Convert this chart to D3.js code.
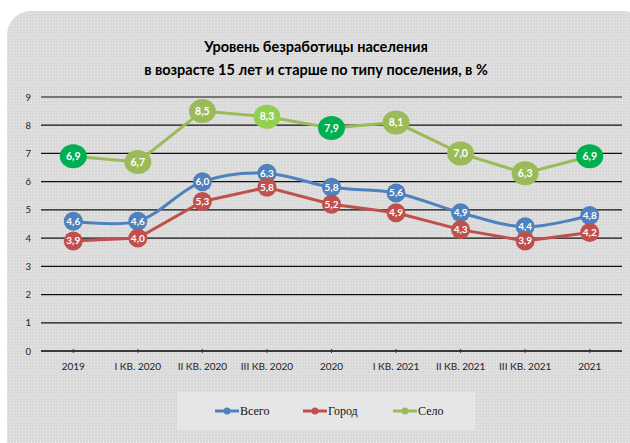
<!DOCTYPE html>
<html>
<head>
<meta charset="utf-8">
<script src="https://cdn.jsdelivr.net/npm/d3@7"></script>
<style>
  body { margin: 0; background: #fff; }
  svg { display: block; }
  .legend-text { font-family: "Times New Roman", "Liberation Serif", serif; }
</style>
</head>
<body>
<div id="chart"></div>
<script>
// data
var categories = ['2019', 'I КВ. 2020', 'II КВ. 2020', 'III КВ. 2020', '2020', 'I КВ. 2021', 'II КВ. 2021', 'III КВ. 2021', '2021'];
var vsego = [4.6, 4.6, 6.0, 6.3, 5.8, 5.6, 4.9, 4.4, 4.8];
var gorod = [3.9, 4.0, 5.3, 5.8, 5.2, 4.9, 4.3, 3.9, 4.2];
var selo  = [6.9, 6.7, 8.5, 8.3, 7.9, 8.1, 7.0, 6.3, 6.9];
var seloMarkerColors = ['#00b050', '#9bbb59', '#9bbb59', '#92d050', '#00b050', '#9bbb59', '#9bbb59', '#9bbb59', '#00b050'];
var yTicks = [0, 1, 2, 3, 4, 5, 6, 7, 8, 9];
var seriesNames = ['Всего', 'Город', 'Село'];

var W = 630, H = 443;
var svg = d3.select('#chart').append('svg')
            .attr('width', W)
            .attr('height', H);

// dotted grey background
var defs = svg.append('defs');
var pat = defs.append('pattern')
              .attr('id', 'dots')
              .attr('width', 3)
              .attr('height', 3)
              .attr('patternUnits', 'userSpaceOnUse');
pat.append('rect').attr('width', 3).attr('height', 3).attr('fill', '#dadada');
pat.append('rect').attr('x', 1).attr('y', 1).attr('width', 1).attr('height', 1).attr('fill', '#ececec');

svg.append('rect')
   .attr('x', 7)
   .attr('y', 11)
   .attr('width', 640)
   .attr('height', 460)
   .attr('rx', 24)
   .attr('fill', 'url(#dots)');

// title
var title = svg.append('text')
               .attr('text-anchor', 'middle')
               .attr('font-family', 'Lato, sans-serif')
               .attr('font-weight', 'bold')
               .attr('font-size', 14.5)
               .attr('fill', '#000');
title.append('tspan').attr('x', 316).attr('y', 52).text('Уровень безработицы населения');
title.append('tspan').attr('x', 316).attr('y', 75).text('в возрасте 15 лет и старше по типу поселения, в %');

// scales
var x = d3.scaleBand().domain(categories).range([41, 622]);
var y = d3.scaleLinear().domain([0, 9]).range([351, 97]);
var cx = function(i) { return x(categories[i]) + x.bandwidth() / 2; };

// horizontal grid
svg.append('g')
   .selectAll('line')
   .data(yTicks.filter(function(d) { return d > 0; }))
   .join('line')
   .attr('x1', 41)
   .attr('x2', 622)
   .attr('y1', function(d) { return y(d); })
   .attr('y2', function(d) { return y(d); })
   .attr('stroke', '#111')
   .attr('stroke-width', 1.2);

// y axis labels
var yAxis = svg.append('g')
               .attr('transform', 'translate(41,0)')
               .call(d3.axisLeft(y).tickValues(yTicks).tickSize(0).tickPadding(10));
yAxis.select('.domain').remove();
yAxis.selectAll('text')
     .attr('font-family', 'Lato, sans-serif')
     .attr('font-size', 9.5)
     .attr('fill', '#222');

// x axis
var xAxis = svg.append('g')
               .attr('transform', 'translate(0,351)')
               .call(d3.axisBottom(x).tickSize(3).tickPadding(9));
xAxis.select('.domain').attr('stroke', '#3a3a3a').attr('stroke-width', 2.2).attr('d', 'M41,0H622');
xAxis.selectAll('.tick line').attr('stroke', '#3a3a3a').attr('y1', -2).attr('y2', 2);
xAxis.selectAll('text')
     .attr('font-family', 'Lato, sans-serif')
     .attr('font-size', 10)
     .attr('fill', '#222');

var lineStraight = d3.line()
                     .x(function(d, i) { return cx(i); })
                     .y(function(d) { return y(d); });
var lineSmooth = d3.line()
                   .x(function(d, i) { return cx(i); })
                   .y(function(d) { return y(d); })
                   .curve(d3.curveCatmullRom.alpha(0.5));

// series lines
svg.append('path').datum(selo)
   .attr('d', lineStraight)
   .attr('fill', 'none')
   .attr('stroke', '#9bbb59')
   .attr('stroke-width', 3);
svg.append('path').datum(vsego)
   .attr('d', lineSmooth)
   .attr('fill', 'none')
   .attr('stroke', '#4f81bd')
   .attr('stroke-width', 3);
svg.append('path').datum(gorod)
   .attr('d', lineStraight)
   .attr('fill', 'none')
   .attr('stroke', '#c0504d')
   .attr('stroke-width', 3);

// markers with labels
function drawMarkers(data, colorFn, rx, ry, fs) {
  var g = svg.append('g');
  var pts = g.selectAll('g')
             .data(data)
             .join('g')
             .attr('transform', function(d, i) { return 'translate(' + cx(i) + ',' + y(d) + ')'; });
  pts.append('ellipse')
     .attr('rx', rx)
     .attr('ry', ry)
     .attr('fill', colorFn);
  pts.append('text')
     .attr('text-anchor', 'middle')
     .attr('dy', '0.35em')
     .attr('font-family', 'Lato, sans-serif')
     .attr('font-weight', 'bold')
     .attr('font-size', fs)
     .attr('fill', '#fff')
     .text(function(d) { return d.toFixed(1).replace('.', ','); });
}
drawMarkers(selo, function(d, i) { return seloMarkerColors[i]; }, 13.5, 12, 10.5);
drawMarkers(vsego, function() { return '#4f81bd'; }, 9.5, 9.5, 10);
drawMarkers(gorod, function() { return '#c0504d'; }, 9.5, 9.5, 10);

// legend
svg.append('rect')
   .attr('x', 177)
   .attr('y', 392)
   .attr('width', 298)
   .attr('height', 38)
   .attr('fill', '#e6e6e6');

var legendColors = ['#4f81bd', '#c0504d', '#9bbb59'];
var legendX = [215, 303, 393];
var lg = svg.append('g')
            .selectAll('g')
            .data(seriesNames)
            .join('g')
            .attr('transform', function(d, i) { return 'translate(' + legendX[i] + ',411)'; });
lg.append('line')
  .attr('x1', 0).attr('x2', 24)
  .attr('stroke', function(d, i) { return legendColors[i]; })
  .attr('stroke-width', 3);
lg.append('circle')
  .attr('cx', 12)
  .attr('r', 3.5)
  .attr('fill', function(d, i) { return legendColors[i]; });
lg.append('text')
  .attr('class', 'legend-text')
  .attr('x', 25)
  .attr('y', 4)
  .attr('font-size', 12)
  .attr('fill', '#111')
  .text(function(d) { return d; });
</script>
</body>
</html>
